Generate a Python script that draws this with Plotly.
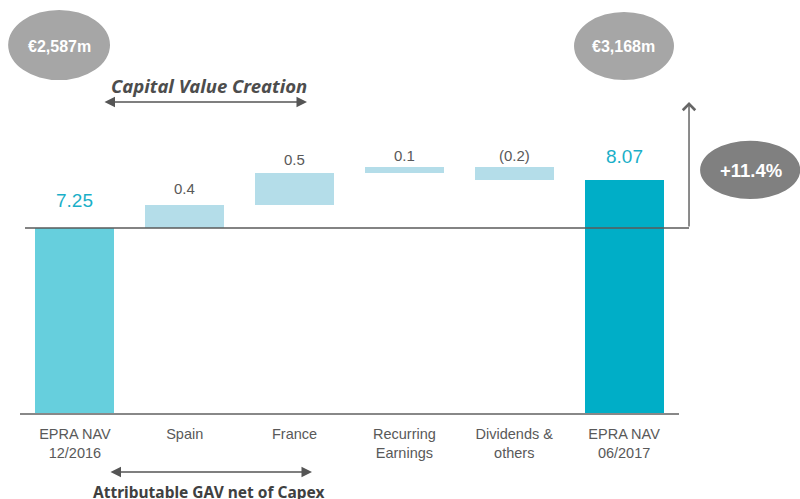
import plotly.graph_objects as go

# ---- data ----
categories = ["EPRA NAV<br>12/2016", "Spain", "France", "Recurring<br>Earnings",
              "Dividends &<br>others", "EPRA NAV<br>06/2017"]
start_nav = 7.25
changes = [0.39, 0.55, 0.10, -0.22]
end_nav = 8.07
value_labels = ["7.25", "0.4", "0.5", "0.1", "(0.2)", "8.07"]
axis_floor = 4.09
axis_top = 11.145

# ---- styles ----
c_start = "#66CFDD"
c_step = "#B4DDE9"
c_end = "#00AEC7"
c_text = "#595959"
c_nav_text = "#1AAFC8"
label_offsets = [28, 17, 13, 12, 12, 24]
label_sizes = [19, 15, 15, 15, 15, 19]
font_main = "Liberation Sans, Arial, sans-serif"

# build waterfall geometry from data
bases, heights = [0], [start_nav]
cum = start_nav
for ch in changes:
    if ch >= 0:
        bases.append(cum); heights.append(ch)
    else:
        bases.append(cum + ch); heights.append(-ch)
    cum += ch
bases.append(0); heights.append(end_nav)
tops = [b + h for b, h in zip(bases, heights)]
colors = [c_start] + [c_step] * len(changes) + [c_end]

fig = go.Figure()
fig.add_trace(go.Bar(
    x=list(range(len(categories))), y=heights, base=bases,
    marker=dict(color=colors, line=dict(width=0)),
    width=0.72, hoverinfo="skip", showlegend=False,
))

annotations = []
for i, (t, lab) in enumerate(zip(tops, value_labels)):
    col = c_nav_text if i in (0, len(tops) - 1) else c_text
    annotations.append(dict(x=i, y=t, xref="x", yref="y", text=lab, showarrow=False,
                            xanchor="center", yanchor="middle", yshift=label_offsets[i],
                            font=dict(family=font_main, size=label_sizes[i], color=col)))


def txt(x, y, text, size, color, family=font_main):
    return dict(x=x, y=y, xref="paper", yref="paper", text=text, showarrow=False,
                xanchor="center", yanchor="middle",
                font=dict(family=family, size=size, color=color))


annotations += [
    txt(0.0592, 0.8886, "<b>€2,587m</b>", 16, "white"),
    txt(0.9165, 0.8886, "<b>€3,168m</b>", 16, "white"),
    txt(1.1093, 0.586, "<b>+11.4%</b>", 18.5, "white"),
    txt(0.2868, 0.794, "<b><i>Capital Value Creation</i></b>", 18.5, "#4d4d4d", "Noto Sans, sans-serif"),
    txt(0.2868, -0.191, "<b>Attributable GAV net of Capex</b>", 15.5, "#404040", "Noto Sans, sans-serif"),
    # double arrows
    dict(x=0.4355, y=0.753, xref="paper", yref="paper", ax=-204, ay=0, text="", showarrow=True,
         arrowside="end+start", arrowhead=2, startarrowhead=2, arrowsize=1.4, startarrowsize=1.4,
         arrowwidth=1.5, arrowcolor="#555555", standoff=0, startstandoff=0),
    dict(x=0.4431, y=-0.1429, xref="paper", yref="paper", ax=-203, ay=0, text="", showarrow=True,
         arrowside="end+start", arrowhead=2, startarrowhead=2, arrowsize=1.4, startarrowsize=1.4,
         arrowwidth=1.5, arrowcolor="#555555", standoff=0, startstandoff=0),
    # vertical up arrow
    dict(x=1.0152, y=0.753, xref="paper", yref="paper", ax=0, ay=126, text="", showarrow=True,
         arrowhead=4, arrowsize=1.6, arrowwidth=1.5, arrowcolor="#666666", standoff=0),
]

shapes = [
    dict(type="circle", xref="paper", yref="paper", x0=-0.018, x1=0.1366, y0=0.806, y1=0.976,
         fillcolor="#A6A6A6", line=dict(width=0), layer="below"),
    dict(type="circle", xref="paper", yref="paper", x0=0.8407, x1=0.9924, y0=0.806, y1=0.971,
         fillcolor="#A6A6A6", line=dict(width=0), layer="below"),
    dict(type="circle", xref="paper", yref="paper", x0=1.032, x1=1.184, y0=0.518, y1=0.659,
         fillcolor="#808080", line=dict(width=0), layer="below"),
    dict(type="line", xref="paper", yref="y", x0=0.0076, x1=1.0152, y0=start_nav, y1=start_nav,
         line=dict(color="rgba(90,90,90,0.75)", width=2), layer="above"),
]

fig.update_layout(
    width=800, height=499,
    margin=dict(l=20, r=121, t=0, b=86),
    paper_bgcolor="white", plot_bgcolor="rgba(0,0,0,0)",
    bargap=0,
    xaxis=dict(range=[-0.5, len(categories) - 0.5], tickmode="array",
               tickvals=list(range(len(categories))), ticktext=categories,
               showline=True, linecolor="#888888", linewidth=2, showgrid=False, zeroline=False,
               ticks="", ticklabelstandoff=7,
               tickfont=dict(family=font_main, size=14.5, color=c_text), fixedrange=True),
    yaxis=dict(range=[axis_floor, axis_top], visible=False, showgrid=False, zeroline=False,
               fixedrange=True),
    annotations=annotations,
    shapes=shapes,
)

fig.write_html("out.html", config={"displayModeBar": False},
               post_script="document.body.style.margin='0';document.body.style.overflow='hidden';")
